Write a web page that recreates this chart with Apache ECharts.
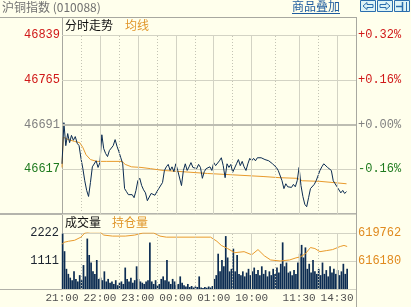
<!DOCTYPE html>
<html><head><meta charset="utf-8">
<script src="https://cdn.jsdelivr.net/npm/echarts@6/dist/echarts.min.js"></script>
<style>html,body{margin:0;padding:0;background:#FFFFEC}#c{width:411px;height:307px}</style>
</head><body><div id="c"></div>
<script>
// ---- data ----
const step = 3; // minutes between samples (trading-minute index)
const price = [
46626,46694,46656,46676,46661,46673,46665,46671,46660,46656,
46635,46618,46598,46582,46572,46595,46621,46623,46631,46620,
46628,46674,46651,46643,46638,46648,46645,46656,46666,46655,
46646,46636,46626,46585,46580,46575,46572,46575,46570,46582,
46598,46602,46590,46583,46578,46565,46562,46577,46575,46574,
46580,46585,46588,46595,46615,46621,46625,46615,46621,46613,
46626,46615,46618,46590,46615,46626,46615,46621,46628,46620,
46621,46618,46625,46620,46602,46613,46618,46621,46621,46615,
46628,46623,46626,46631,46636,46623,46603,46626,46620,46625,
46612,46615,46626,46633,46623,46630,46621,46615,46626,46635,
46631,46635,46631,46636,46635,46636,46633,46633,46630,46631,
46628,46626,46625,46620,46615,46612,46598,46585,46593,46588,
46590,46587,46592,46588,46598,46620,46590,46572,46559,46555,
46570,46585,46587,46592,46598,46597,46615,46621,46626,46625,
46620,46621,46615,46598,46593,46588,46585,46578,46582,46577,
46580];
const volume = [
2200,1500,800,600,450,350,700,400,300,550,
350,950,500,2000,1350,1050,700,600,1150,400,
450,350,700,300,400,250,300,200,350,150,
250,300,200,850,400,300,450,250,350,900,
400,300,250,200,300,350,1850,300,200,350,
150,200,400,500,350,1150,300,200,400,300,
150,200,500,250,150,100,200,80,120,60,
100,80,500,60,40,80,50,100,60,120,
400,550,1400,700,1150,900,2100,1250,700,800,
1600,700,1350,600,550,700,500,650,800,550,
700,850,600,750,550,900,600,750,500,700,
550,800,600,850,650,1000,1850,900,1050,650,
700,550,750,600,1050,1400,1750,1250,1650,800,
1000,650,1150,700,600,800,550,1050,600,750,
500,900,650,800,600,750,550,700,1000,600,
800];
const avgMin = [0,2,10,20,28,33,38,45,55,70,95,100,110,125,140,160,190,230,266,318,345,372,380,408,450];
const avgVal = [46620,46670,46666,46663,46661,46653,46641,46633,46630,46630,46630,46625,46621,46620,46618,46615,46613,46610,46608,46605,46603,46602,46598,46597,46593];
const oiMin = [0,3,10,20,30,36,45,60,66,80,100,115,128,145,155,165,235,245,252,262,273,288,300,310,320,330,345,360,370,377,385,393,400,408,418,428,440,446,451];
const oiVal = [618303,618569,618701,618834,619232,619763,619896,619896,619498,619365,619365,619498,619763,619763,619365,619232,619232,618701,618171,617772,617242,617374,616976,617640,616844,616313,616180,616313,616578,616711,617109,617905,617772,617374,617507,617640,618038,618171,618038];
const prevClose = 46691;
const priceTicks = {min:46543, max:46839, interval:74};
const volTicks = {min:0, max:2222, interval:1111};
const oiTicks = {min:612598, max:619762, interval:3582};
const totalMin = 465;
const timeLabelMin = [0,60,120,180,240,300,375,435];
const timeLabels = ['21:00','22:00','23:00','00:00','01:00','10:00','11:30','14:30'];
const solidMin = [60,120,180,240,300,375,435];
const halfMin = [30,90,150,210,270,337.5,405];

// ---- chart ----
const NAVY = '#0C2C52', ORANGE = '#E89A2C', GRID = '#D3D3C4', MONO = 'Liberation Mono, DejaVu Sans Mono, monospace', CJK = 'Noto Sans CJK SC, sans-serif';
const upColor = v => { v = Number(v); return v > prevClose ? '#D01818' : (v < prevClose ? '#1E7A1E' : '#808080'); };
const vLines = () => [
  ...solidMin.map(m => ({xAxis: m, lineStyle: {type: 'solid', color: GRID, width: 1}})),
  ...halfMin.map(m => ({xAxis: m, lineStyle: {type: [1, 2], color: '#C4C4B4', width: 1}}))
];
const skipMin = (min, f) => v => (Number(v) === min ? '' : f(Number(v)));
const chart = echarts.init(document.getElementById('c'), null, {renderer: 'canvas'});
const lineG = (x1, y1, x2, y2, color, w) => ({type: 'line', silent: true, shape: {x1, y1, x2, y2}, style: {stroke: color, lineWidth: w || 1}});
chart.setOption({
  animation: false,
  backgroundColor: '#FFFFEC',
  grid: [
    {left: 62, top: 35, width: 294, height: 179},
    {left: 62, top: 233, width: 294, height: 56}
  ],
  xAxis: [
    {gridIndex: 0, type: 'value', min: 0, max: totalMin, show: false},
    {gridIndex: 1, type: 'value', min: 0, max: totalMin, axisLine: {show: false}, axisTick: {show: false}, splitLine: {show: false},
     axisLabel: {customValues: timeLabelMin, formatter: v => timeLabels[timeLabelMin.indexOf(v)], fontFamily: MONO, fontSize: 11, color: '#505050', margin: 4}}
  ],
  yAxis: [
    {gridIndex: 0, type: 'value', position: 'left', min: priceTicks.min, max: priceTicks.max, interval: priceTicks.interval,
     axisLine: {show: false}, axisTick: {show: false},
     splitLine: {lineStyle: {color: GRID}},
     axisLabel: {fontFamily: MONO, fontSize: 12, margin: 2, padding: [5, 0, 0, 0], color: upColor, formatter: skipMin(priceTicks.min, v => String(v))}},
    {gridIndex: 0, type: 'value', position: 'right', min: priceTicks.min, max: priceTicks.max, interval: priceTicks.interval,
     axisLine: {show: false}, axisTick: {show: false}, splitLine: {show: false},
     axisLabel: {fontFamily: MONO, fontSize: 12, margin: 2, padding: [5, 0, 0, 0], color: upColor,
       formatter: skipMin(priceTicks.min, v => { const p = (v - prevClose) / prevClose * 100; return (p >= -0.0001 ? '+' : '-') + Math.abs(p).toFixed(2) + '%'; })}},
    {gridIndex: 1, type: 'value', position: 'left', min: volTicks.min, max: volTicks.max, interval: volTicks.interval,
     axisLine: {show: false}, axisTick: {show: false},
     splitLine: {lineStyle: {color: GRID}},
     axisLabel: {fontFamily: MONO, fontSize: 12, margin: 3, padding: [5, 0, 0, 0], color: '#1C2430', formatter: skipMin(volTicks.min, v => String(v))}},
    {gridIndex: 1, type: 'value', position: 'right', min: oiTicks.min, max: oiTicks.max, interval: oiTicks.interval,
     axisLine: {show: false}, axisTick: {show: false}, splitLine: {show: false},
     axisLabel: {fontFamily: MONO, fontSize: 12, margin: 2, padding: [5, 0, 0, 0], color: '#E08A1E', formatter: skipMin(oiTicks.min, v => String(v))}}
  ],
  series: [
    {type: 'line', xAxisIndex: 0, yAxisIndex: 0, data: avgMin.map((m, i) => [m, avgVal[i]]), symbol: 'none',
     lineStyle: {color: ORANGE, width: 1}, z: 3,
     markLine: {silent: true, symbol: ['none', 'none'], label: {show: false}, animation: false,
       data: [...vLines(), {yAxis: prevClose, lineStyle: {type: 'solid', width: 2, color: '#BDBDB2'}}]}},
    {type: 'line', xAxisIndex: 0, yAxisIndex: 0, data: price.map((v, i) => [i * step, v]), symbol: 'none',
     lineStyle: {color: NAVY, width: 1}, z: 4},
    {type: 'bar', xAxisIndex: 1, yAxisIndex: 2, data: volume.map((v, i) => [i * step + 1, v]), barWidth: 1.7,
     itemStyle: {color: NAVY}, z: 3,
     markLine: {silent: true, symbol: ['none', 'none'], label: {show: false}, animation: false, data: vLines()}},
    {type: 'line', xAxisIndex: 1, yAxisIndex: 3, data: oiMin.map((m, i) => [m, oiVal[i]]), symbol: 'none',
     lineStyle: {color: ORANGE, width: 1}, z: 4}
  ],
  graphic: [
    lineG(0, 17.5, 357, 17.5, '#A8A8A0'),
    lineG(0, 214, 357, 214, '#B4B4AC', 2),
    lineG(0, 289.5, 357, 289.5, '#B0B0A8'),
    lineG(62.5, 17, 62.5, 290, '#A8A8A0'),
    lineG(356.5, 17, 356.5, 307, '#A8A8A0'),
    {type: 'text', left: 2, top: 1, style: {text: '沪铜指数 (010088)', font: '12px ' + CJK, fill: '#707070'}},
    {type: 'text', left: 65, top: 19, style: {text: '分时走势', font: '12px ' + CJK, fill: '#101010'}},
    {type: 'text', left: 125, top: 19, style: {text: '均线', font: '12px ' + CJK, fill: '#E0962A'}},
    {type: 'text', left: 65, top: 216, style: {text: '成交量', font: '12px ' + CJK, fill: '#101010'}},
    {type: 'text', left: 112, top: 216, style: {text: '持仓量', font: '12px ' + CJK, fill: '#E0962A'}},
    {type: 'text', left: 292, top: 0, style: {text: '商品叠加', font: '12px ' + CJK, fill: '#1E5C9E'}},
    lineG(292, 13.5, 340, 13.5, '#1E5C9E'),
    {type: 'rect', shape: {x: 360.5, y: 0.5, width: 15, height: 11}, style: {fill: '#DDF3F6', stroke: '#2A6EAE', lineWidth: 1}},
    {type: 'rect', shape: {x: 377.5, y: 0.5, width: 15, height: 11}, style: {fill: '#DDF3F6', stroke: '#2A6EAE', lineWidth: 1}},
    {type: 'rect', shape: {x: 394.5, y: 0.5, width: 15, height: 11}, style: {fill: '#DDF3F6', stroke: '#2A6EAE', lineWidth: 1}},
    {type: 'polygon', shape: {points: [[363, 6], [367, 2.5], [367, 4.5], [373, 4.5], [373, 7.5], [367, 7.5], [367, 9.5]]}, style: {fill: '#DDF3F6', stroke: '#2A6EAE', lineWidth: 1}},
    {type: 'polygon', shape: {points: [[390, 6], [386, 2.5], [386, 4.5], [380, 4.5], [380, 7.5], [386, 7.5], [386, 9.5]]}, style: {fill: '#DDF3F6', stroke: '#2A6EAE', lineWidth: 1}},
    lineG(396, 6.5, 402, 6.5, '#2A6EAE', 1.5),
    lineG(402.5, 2, 402.5, 11, '#2A6EAE', 1.5),
    lineG(406.5, 2, 406.5, 11, '#2A6EAE', 1)
  ]
});
</script></body></html>
